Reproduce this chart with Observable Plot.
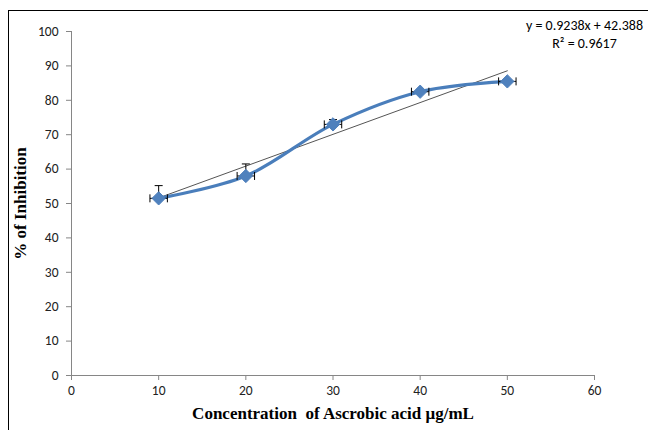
<!DOCTYPE html>
<html><head><meta charset="utf-8">
<script src="https://cdn.jsdelivr.net/npm/d3@7"></script>
<script src="https://cdn.jsdelivr.net/npm/@observablehq/plot@0.6"></script>
<style>
html,body{margin:0;padding:0;background:#fff;overflow:hidden}
#wrap{position:relative;width:648px;height:430px}
#frame{position:absolute;left:8px;top:10px;width:700px;height:500px;border-left:1.3px solid #000;border-top:1.3px solid #000;pointer-events:none}
#chart{position:absolute;left:0;top:0}
</style></head>
<body><div id="wrap"><div id="chart"></div><div id="frame"></div></div>
<script>
const conc = [10, 20, 30, 40, 50];
const inhibition = [51.5, 58, 73, 82.5, 85.5];
const yErrPlus = [3.7, 3.5, 1.4, 0.6, 0.4];
const xErr = [1, 1, 1, 1, 1];
const xTicks = [0, 10, 20, 30, 40, 50, 60];
const yTicks = [0, 10, 20, 30, 40, 50, 60, 70, 80, 90, 100];
const slope = 0.9238, intercept = 42.388;
const eqText = "y = 0.9238x + 42.388";
const r2Text = "R² = 0.9617";

const data = conc.map((x, i) => ({x, y: inhibition[i], ey: yErrPlus[i], ex: xErr[i]}));
const trend = [conc[0], conc[conc.length - 1]].map(x => ({x, y: slope * x + intercept}));

const hCap = {draw(ctx, size) { const r = Math.sqrt(size / Math.PI); ctx.moveTo(-r, 0); ctx.lineTo(r, 0); }};
const vCap = {draw(ctx, size) { const r = Math.sqrt(size / Math.PI); ctx.moveTo(0, -r); ctx.lineTo(0, r); }};

const tickFont = "Carlito, 'Open Sans', sans-serif";
const serif = "'Liberation Serif', 'Times New Roman', serif";
const chart = Plot.plot({
  width: 648, height: 430,
  marginLeft: 71, marginRight: 54, marginTop: 31, marginBottom: 55,
  style: {fontFamily: tickFont, fontSize: "13.5px", color: "#000", background: "transparent"},
  x: {domain: [0, 60]},
  y: {domain: [0, 100]},
  marks: [
    Plot.axisY({ticks: yTicks, tickSize: 5, tickPadding: 8, stroke: "#868686", label: null, fill: "#222"}),
    Plot.axisX({ticks: xTicks, tickSize: 5, tickPadding: 5, stroke: "#868686", label: null, fill: "#222"}),
    Plot.ruleX([0], {stroke: "#868686"}),
    Plot.ruleY([0], {stroke: "#868686"}),
    Plot.line(trend, {x: "x", y: "y", stroke: "#555", strokeWidth: 1}),
    Plot.line(data, {x: "x", y: "y", curve: "catmull-rom", stroke: "#4A7EBB", strokeWidth: 3.2}),
    Plot.link(data, {x1: "x", x2: "x", y1: "y", y2: d => d.y + d.ey, stroke: "#000", strokeWidth: 1}),
    Plot.dot(data, {x: "x", y: d => d.y + d.ey, symbol: hCap, r: 4, stroke: "#000", strokeWidth: 1, fill: "none"}),
    Plot.link(data, {x1: d => d.x - d.ex, x2: d => d.x + d.ex, y1: "y", y2: "y", stroke: "#000", strokeWidth: 1}),
    Plot.dot(data, {x: d => d.x - d.ex, y: "y", symbol: vCap, r: 4, stroke: "#000", strokeWidth: 1, fill: "none"}),
    Plot.dot(data, {x: d => d.x + d.ex, y: "y", symbol: vCap, r: 4, stroke: "#000", strokeWidth: 1, fill: "none"}),
    Plot.dot(data, {x: "x", y: "y", symbol: "diamond2", r: 6, fill: "#4F81BD", stroke: "#4F81BD", strokeWidth: 1}),
    Plot.text([eqText], {x: 58.85, y: 101.7, text: d => d, fontSize: 14, fill: "#000", textAnchor: "middle"}),
    Plot.text([r2Text], {x: 58.85, y: 96.5, text: d => d, fontSize: 14, fill: "#000", textAnchor: "middle"}),
    Plot.text(["Concentration  of Ascrobic acid μg/mL"], {frameAnchor: "bottom", dy: 38, text: d => d, fontFamily: serif, fontWeight: "bold", fontSize: 17, fill: "#000", lineAnchor: "middle", textAnchor: "middle"}),
    Plot.text(["% of Inhibition"], {frameAnchor: "left", dx: -51, text: d => d, rotate: -90, textAnchor: "middle", lineAnchor: "middle", fontFamily: serif, fontWeight: "bold", fontSize: 17, fill: "#000"})
  ]
});
chart.querySelectorAll("text").forEach(t => t.style.whiteSpace = "pre");
document.getElementById("chart").append(chart);
</script></body></html>
